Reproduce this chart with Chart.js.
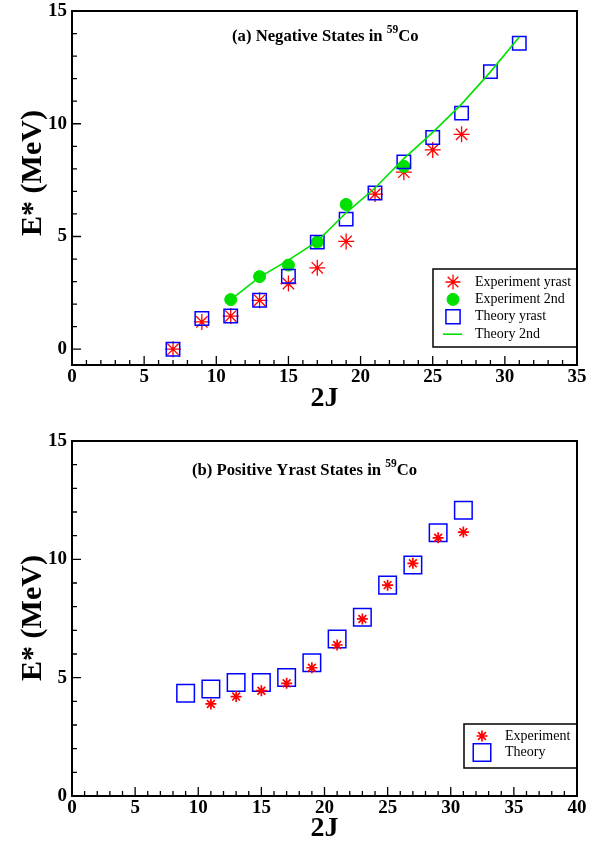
<!DOCTYPE html>
<html>
<head>
<meta charset="utf-8">
<script src="https://cdn.jsdelivr.net/npm/chart.js@4.4.0/dist/chart.umd.min.js"></script>
<style>
  html, body { margin: 0; padding: 0; background: #fff; }
  .panel { position: absolute; left: 0; width: 607px; }
  #top { top: 0; height: 420px; }
  #bottom { top: 420px; height: 423px; }
</style>
</head>
<body>
<div class="panel" id="top"><canvas id="chartA" width="607" height="420"></canvas></div>
<div class="panel" id="bottom"><canvas id="chartB" width="607" height="423"></canvas></div>
<script>
// (a) negative parity states
const expYrastJ = [7, 9, 11, 13, 15, 17, 19, 21, 23, 25, 27];
const expYrastE = [0, 1.21, 1.47, 2.17, 2.91, 3.61, 4.78, 6.88, 7.85, 8.84, 9.53];
const exp2ndJ = [11, 13, 15, 17, 19, 23];
const exp2ndE = [2.2, 3.22, 3.73, 4.75, 6.42, 8.11];
const thYrastJ = [7, 9, 11, 13, 15, 17, 19, 21, 23, 25, 27, 29, 31];
const thYrastE = [0, 1.36, 1.47, 2.17, 3.24, 4.75, 5.77, 6.93, 8.31, 9.39, 10.47, 12.31, 13.57];
const th2ndJ = [11, 13, 15, 17, 19, 21, 23, 25, 27, 29, 31];
const th2ndE = [2.2, 3.2, 3.95, 4.78, 6.05, 7.15, 8.45, 9.62, 10.87, 12.3, 13.85];

// (b) positive yrast states
const posExpJ = [11, 13, 15, 17, 19, 21, 23, 25, 27, 29, 31];
const posExpE = [3.89, 4.2, 4.45, 4.76, 5.42, 6.38, 7.48, 8.91, 9.83, 10.91, 11.15];
const posThJ = [9, 11, 13, 15, 17, 19, 21, 23, 25, 27, 29, 31];
const posThE = [4.34, 4.52, 4.8, 4.8, 5.01, 5.63, 6.63, 7.55, 8.91, 9.76, 11.12, 12.07];

const xTicksA = [0, 5, 10, 15, 20, 25, 30, 35];
const xTicksB = [0, 5, 10, 15, 20, 25, 30, 35, 40];
const yTicks = [0, 5, 10, 15];

const RED = '#ff0000';
const GREEN = '#00e000';
const BLUE = '#0000ff';
const SERIF = '"Liberation Serif", "Times New Roman", serif';

Chart.defaults.font.family = SERIF;
Chart.defaults.color = '#000';

function pts(xs, ys) {
    return xs.map((x, i) => ({ x: x, y: ys[i] }));
}

// frame, inward ticks, y title, panel title and boxed legend
const decor = {
    id: 'decor',
    afterDraw(chart, args, opts) {
        const ctx = chart.ctx;
        const area = chart.chartArea;
        const xs = chart.scales.x;
        const ys = chart.scales.y;
        ctx.save();
        ctx.strokeStyle = '#000';
        ctx.lineWidth = 1.3;
        ctx.beginPath();
        for (let v = Math.ceil(xs.min); v <= xs.max; v++) {
            const px = xs.getPixelForValue(v);
            const len = v % 5 === 0 ? 9 : 5;
            ctx.moveTo(px, area.bottom);
            ctx.lineTo(px, area.bottom - len);
        }
        for (let v = Math.ceil(ys.min); v <= ys.max; v++) {
            const py = ys.getPixelForValue(v);
            const len = v % 5 === 0 ? 9 : 5;
            ctx.moveTo(area.left, py);
            ctx.lineTo(area.left + len, py);
        }
        ctx.stroke();
        ctx.lineWidth = 2;
        ctx.strokeRect(area.left, area.top, area.right - area.left, area.bottom - area.top);

        // vertical axis title
        ctx.fillStyle = '#000';
        ctx.save();
        ctx.translate(opts.yTitleX, opts.yTitleY);
        ctx.rotate(-Math.PI / 2);
        ctx.font = 'bold 30px ' + SERIF;
        ctx.textAlign = 'center';
        ctx.textBaseline = 'middle';
        ctx.fillText('E* (MeV)', 0, 0);
        ctx.restore();

        // title with superscript mass number
        ctx.textBaseline = 'alphabetic';
        ctx.textAlign = 'left';
        let tx = opts.titleX;
        ctx.font = 'bold 16.7px ' + SERIF;
        ctx.fillText(opts.title, tx, opts.titleY);
        tx += ctx.measureText(opts.title).width;
        ctx.font = 'bold 11.5px ' + SERIF;
        ctx.fillText(opts.sup, tx, opts.titleY - 8);
        tx += ctx.measureText(opts.sup).width;
        ctx.font = 'bold 16.7px ' + SERIF;
        ctx.fillText(opts.tail, tx, opts.titleY);

        // legend
        const lg = opts.legend;
        ctx.lineWidth = 1.5;
        ctx.strokeStyle = '#000';
        ctx.strokeRect(lg.left, lg.top, area.right - lg.left, lg.bottom - lg.top);
        ctx.font = '14px ' + SERIF;
        ctx.textBaseline = 'middle';
        lg.items.forEach((it, i) => {
            const ds = chart.data.datasets[it.ds];
            const y = lg.rowY + i * lg.rowStep;
            ctx.fillStyle = '#000';
            ctx.fillText(ds.label, lg.textX, y);
            if (ds.showLine) {
                ctx.strokeStyle = ds.borderColor;
                ctx.lineWidth = ds.borderWidth;
                ctx.beginPath();
                ctx.moveTo(lg.symX - 10, y);
                ctx.lineTo(lg.symX + 9, y);
                ctx.stroke();
            } else {
                ctx.strokeStyle = ds.borderColor;
                ctx.fillStyle = ds.backgroundColor;
                ctx.lineWidth = ds.borderWidth;
                Chart.helpers.drawPoint(ctx, {
                    pointStyle: ds.pointStyle,
                    radius: it.radius || ds.pointRadius,
                    rotation: 0,
                    borderWidth: ds.borderWidth
                }, lg.symX, y);
            }
        });
        ctx.restore();
    }
};

function axes(xMax, xTicks, yMin, xHeight, titleBottom) {
    return {
        x: {
            type: 'linear',
            min: 0,
            max: xMax,
            grid: { display: false, drawTicks: false },
            border: { display: false },
            afterBuildTicks: s => { s.ticks = xTicks.map(v => ({ value: v })); },
            afterFit: s => { s.height = xHeight; },
            ticks: { padding: 1, maxRotation: 0, font: { size: 19, weight: 'bold' }, color: '#000' },
            title: {
                display: true,
                text: '2J',
                color: '#000',
                font: { size: 28, weight: 'bold', lineHeight: 1 },
                padding: { top: 0, bottom: titleBottom }
            }
        },
        y: {
            type: 'linear',
            min: yMin,
            max: 15,
            grid: { display: false, drawTicks: false },
            border: { display: false },
            afterBuildTicks: s => { s.ticks = yTicks.map(v => ({ value: v })); },
            afterFit: s => {
                s.width = 72;
                s.paddingTop = 0;
                s.paddingBottom = 0;
            },
            ticks: { padding: 5, font: { size: 19, weight: 'bold' }, color: '#000' }
        }
    };
}

new Chart(document.getElementById('chartA'), {
    type: 'scatter',
    data: {
        datasets: [
            {
                label: 'Experiment yrast',
                data: pts(expYrastJ, expYrastE),
                pointStyle: 'star',
                pointRadius: 8,
                borderColor: RED,
                backgroundColor: RED,
                borderWidth: 1.3,
                order: 4
            },
            {
                label: 'Experiment 2nd',
                data: pts(exp2ndJ, exp2ndE),
                pointStyle: 'circle',
                pointRadius: 6,
                borderColor: GREEN,
                backgroundColor: GREEN,
                borderWidth: 1,
                order: 3
            },
            {
                label: 'Theory yrast',
                data: pts(thYrastJ, thYrastE),
                pointStyle: 'rect',
                pointRadius: 9.5,
                borderColor: BLUE,
                backgroundColor: 'rgba(0,0,0,0)',
                borderWidth: 1.5,
                order: 2
            },
            {
                label: 'Theory 2nd',
                data: pts(th2ndJ, th2ndE),
                showLine: true,
                pointRadius: 0,
                borderColor: GREEN,
                backgroundColor: GREEN,
                borderWidth: 1.6,
                tension: 0,
                order: 1
            }
        ]
    },
    options: {
        responsive: false,
        animation: false,
        events: [],
        layout: { padding: { top: 11, right: 30, left: 0, bottom: 0 } },
        scales: axes(35, xTicksA, -0.7, 55, 7),
        plugins: {
            legend: { display: false },
            tooltip: { enabled: false },
            decor: {
                yTitleX: 33,
                yTitleY: 173,
                title: '(a) Negative States in ',
                sup: '59',
                tail: 'Co',
                titleX: 232,
                titleY: 41,
                legend: {
                    left: 433, top: 269, bottom: 347,
                    symX: 453, textX: 475, rowY: 282, rowStep: 17.4,
                    items: [{ ds: 0, radius: 7.5 }, { ds: 1 }, { ds: 2, radius: 10 }, { ds: 3 }]
                }
            }
        }
    },
    plugins: [decor]
});

new Chart(document.getElementById('chartB'), {
    type: 'scatter',
    data: {
        datasets: [
            {
                label: 'Experiment',
                data: pts(posExpJ, posExpE),
                pointStyle: 'star',
                pointRadius: 5.5,
                borderColor: RED,
                backgroundColor: RED,
                borderWidth: 1.7,
                order: 1
            },
            {
                label: 'Theory',
                data: pts(posThJ, posThE),
                pointStyle: 'rect',
                pointRadius: 12.4,
                borderColor: BLUE,
                backgroundColor: 'rgba(0,0,0,0)',
                borderWidth: 1.5,
                order: 2
            }
        ]
    },
    options: {
        responsive: false,
        animation: false,
        events: [],
        layout: { padding: { top: 21, right: 30, left: 0, bottom: 0 } },
        scales: axes(40, xTicksB, 0, 47, 0),
        plugins: {
            legend: { display: false },
            tooltip: { enabled: false },
            decor: {
                yTitleX: 33,
                yTitleY: 198,
                title: '(b) Positive Yrast States in ',
                sup: '59',
                tail: 'Co',
                titleX: 192,
                titleY: 55,
                legend: {
                    left: 464, top: 304, bottom: 348,
                    symX: 482, textX: 505, rowY: 316, rowStep: 16.6,
                    items: [{ ds: 0 }, { ds: 1 }]
                }
            }
        }
    },
    plugins: [decor]
});
</script>
</body>
</html>
